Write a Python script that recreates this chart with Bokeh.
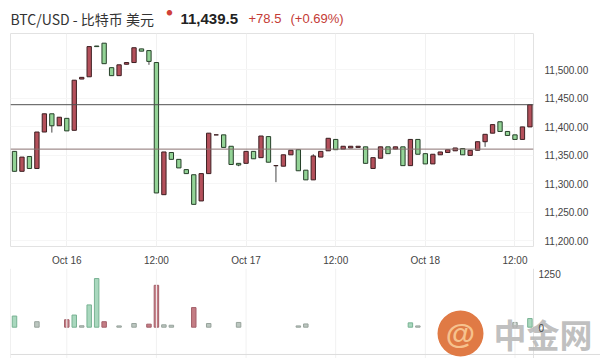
import pandas as pd
from bokeh.plotting import figure
from bokeh.layouts import column, row
from bokeh.models import (ColumnDataSource, Range1d, FixedTicker, NumeralTickFormatter,
                          Span, Label, BoxAnnotation)
from bokeh.embed import file_html
from bokeh.resources import INLINE

# Hourly BTC/USD candles, starting Oct 15 17:00 (2020)
first_hour = "2020-10-15 17:00"

opens = [11357, 11322, 11348, 11327, 11391, 11423, 11402, 11415, 11394, 11484,
         11488, 11542, 11547, 11504, 11490, 11510, 11513, 11537, 11534, 11513,
         11281, 11355, 11343, 11325, 11316, 11270, 11318, 11386, 11386, 11366,
         11336, 11336, 11357, 11346, 11383, 11332, 11331, 11351, 11360, 11324,
         11307, 11347, 11358, 11378, 11361, 11363, 11364, 11365, 11327, 11345,
         11365, 11361, 11365, 11332, 11378, 11353, 11335, 11351, 11355, 11358,
         11362, 11350, 11359, 11374, 11389, 11409, 11392, 11386, 11378, 11400]
closes = [11322, 11347, 11327, 11391, 11423, 11402, 11417, 11393, 11482, 11487,
          11541, 11541, 11511, 11490, 11509, 11513, 11539, 11533, 11515, 11284,
          11356, 11343, 11328, 11318, 11264, 11318, 11389, 11386, 11364, 11334,
          11333, 11357, 11344, 11384, 11338, 11332, 11351, 11359, 11323, 11307,
          11349, 11357, 11380, 11360, 11366, 11366, 11366, 11336, 11346, 11365,
          11353, 11365, 11332, 11378, 11352, 11335, 11352, 11356, 11360, 11363,
          11351, 11359, 11374, 11387, 11404, 11392, 11385, 11378, 11400, 11439]
highs = [11357, 11347, 11348, 11391, 11423, 11423, 11417, 11415, 11482, 11487,
         11541, 11542, 11547, 11504, 11509, 11513, 11539, 11537, 11534, 11513,
         11356, 11355, 11343, 11325, 11316, 11318, 11389, 11386, 11386, 11366,
         11336, 11357, 11357, 11384, 11383, 11332, 11351, 11359, 11360, 11324,
         11352, 11357, 11380, 11378, 11366, 11366, 11366, 11365, 11346, 11365,
         11365, 11365, 11365, 11378, 11378, 11353, 11352, 11356, 11360, 11363,
         11362, 11359, 11374, 11387, 11404, 11409, 11392, 11386, 11400, 11439]
lows = [11322, 11322, 11327, 11327, 11391, 11390, 11402, 11393, 11394, 11484,
        11488, 11541, 11511, 11490, 11490, 11510, 11513, 11533, 11509, 11284,
        11281, 11343, 11328, 11318, 11264, 11270, 11318, 11386, 11364, 11334,
        11331, 11336, 11344, 11346, 11338, 11303, 11331, 11351, 11323, 11307,
        11307, 11347, 11358, 11360, 11361, 11363, 11364, 11336, 11327, 11345,
        11353, 11361, 11332, 11332, 11352, 11335, 11335, 11351, 11355, 11358,
        11351, 11350, 11359, 11365, 11389, 11392, 11385, 11378, 11378, 11400]

# Volume bars (hour offset from first candle, size, tone)
vol_hours = [0, 3, 7, 8, 9, 10, 11, 12, 14, 16, 18, 19, 20, 21, 24, 26, 30,
             38, 39, 53, 54, 58, 67, 69]
vol_values = [258, 127, 173, 281, 33, 516, 1126, 127, 30, 85, 70, 970, 55, 45,
              454, 85, 110, 30, 75, 100, 30, 30, 110, 200]
vol_tones = ["g", "n", "r", "g", "n", "g", "g", "r", "n", "n", "r", "r", "n", "n",
             "r", "n", "n", "n", "n", "g", "n", "n", "n", "g"]

prev_close = 11361.0
last_price = 11439.0
header_title = "BTC/USD - 比特币 美元"
header_price = "11,439.5"
header_change = "+78.5"
header_pct = "(+0.69%)"

price_ticks = [11200, 11250, 11300, 11350, 11400, 11450, 11500]
volume_ticks = [0, 1250]
time_tick_stamps = ["2020-10-16 00:00", "2020-10-16 12:00", "2020-10-17 00:00",
                    "2020-10-17 12:00", "2020-10-18 00:00", "2020-10-18 12:00"]
time_tick_labels = ["Oct 16", "12:00", "Oct 17", "12:00", "Oct 18", "12:00"]

HOUR = 3_600_000
UP_FILL, UP_LINE = "#b4505b", "#3d1f22"
DOWN_FILL, DOWN_LINE = "#93d396", "#27402a"
AXIS_FONT = "Liberation Sans"
CJK_FONT = "Noto Sans CJK SC"
LABEL_COLOR = "#444444"
BORDER = dict(min_border_left=10, min_border_right=67)

def to_ms(ts):
    return int(pd.Timestamp(ts).value // 10**6)

t0 = to_ms(first_hour)
times = [t0 + i * HOUR for i in range(len(opens))]
up = [c >= o for o, c in zip(opens, closes)]

candles = ColumnDataSource(dict(
    x=times,
    top=[max(o, c) for o, c in zip(opens, closes)],
    bottom=[min(o, c) for o, c in zip(opens, closes)],
    high=highs, low=lows,
    fill=[UP_FILL if u else DOWN_FILL for u in up],
    line=[UP_LINE if u else DOWN_LINE for u in up],
))

tone_fill = {"g": "#a9d8be", "r": "#c47c84", "n": "#bcc7c0"}
tone_line = {"g": "#78b293", "r": "#a3606a", "n": "#97a39c"}
volumes = ColumnDataSource(dict(
    x=[t0 + h * HOUR for h in vol_hours],
    v=vol_values,
    fill=[tone_fill[t] for t in vol_tones],
    line=[tone_line[t] for t in vol_tones],
))

# price frame: page x 10..533; the volume strip keeps the same scale out to x 600
x_start = t0 - 0.535 * HOUR
x_end = t0 + 69.48 * HOUR
px_per_ms = 523 / (x_end - x_start)
x_range = Range1d(x_start, x_end)
vol_x_range = Range1d(x_start, x_start + 590 / px_per_ms)
time_ticks = [to_ms(t) for t in time_tick_stamps]

def style_axis(ax):
    ax.axis_line_color = None
    ax.major_tick_line_color = None
    ax.minor_tick_line_color = None
    ax.major_label_text_font = AXIS_FONT
    ax.major_label_text_font_size = "10px"
    ax.major_label_text_color = LABEL_COLOR

# ---- header row (its frame spans page x 10..533, so data x = page x) ---------
head = figure(width=600, height=33, x_range=Range1d(10, 533), y_range=Range1d(33, 0),
              x_axis_location=None, y_axis_location=None, toolbar_location=None,
              output_backend="svg", min_border_top=0, min_border_bottom=0,
              outline_line_color=None, **BORDER)
head.xgrid.visible = False
head.ygrid.visible = False

def head_label(x, y, text, size, color, style="normal", font=CJK_FONT):
    head.add_layout(Label(x=x, y=y, text=text, text_font=font, text_font_size=size,
                          text_color=color, text_font_style=style,
                          text_baseline="middle", text_align="left"))

head_label(10, 18, header_title, "14px", "#333333")
head_label(166, 12, "●", "6px", "#d0413a")
head_label(180, 18, header_price, "15px", "#222222", "bold", AXIS_FONT)
head_label(248, 18, header_change, "13px", "#c43b35", font=AXIS_FONT)
head_label(290, 18, header_pct, "13px", "#c43b35", font=AXIS_FONT)

# ---- price panel ------------------------------------------------------------
main = figure(width=600, height=235, x_range=x_range, y_range=Range1d(11190, 11564),
              y_axis_location="right", toolbar_location=None, output_backend="svg",
              min_border_top=0, min_border_bottom=16, outline_line_color="#e2e2e2",
              **BORDER)

main.xaxis.ticker = FixedTicker(ticks=time_ticks)
main.xaxis.major_label_overrides = dict(zip(time_ticks, time_tick_labels))
main.yaxis.ticker = FixedTicker(ticks=price_ticks)
main.yaxis.formatter = NumeralTickFormatter(format="0,0.00")
style_axis(main.xaxis[0])
style_axis(main.yaxis[0])
main.xaxis.major_label_standoff = 2
main.yaxis.major_label_standoff = 5
main.xgrid.grid_line_color = "#f1f1f1"
main.ygrid.grid_line_color = "#f6f6f6"

main.add_layout(Span(location=prev_close, dimension="width",
                     line_color="#8a7272", line_width=1))
main.add_layout(Span(location=last_price, dimension="width",
                     line_color="#505050", line_width=1))

main.segment(x0="x", x1="x", y0="low", y1="high", source=candles,
             line_color="#444444", line_width=1)
main.vbar(x="x", width=0.58 * HOUR, top="top", bottom="bottom", source=candles,
          fill_color="fill", line_color="line", line_width=1)

main.add_layout(Label(x=x_range.end, y=last_price, x_offset=1,
                      text=f"{last_price:,.2f}", text_font=AXIS_FONT,
                      text_font_size="10px", text_color="white",
                      text_baseline="middle", text_align="left",
                      background_fill_color="#333333", padding=2))

# ---- volume panel (frame runs to the page edge) -----------------------------
vol = figure(width=600, height=90, x_range=vol_x_range, y_range=Range1d(-725, 1359),
             x_axis_location=None, y_axis_location=None, toolbar_location=None,
             output_backend="svg", min_border_left=10, min_border_right=0,
             min_border_top=0, min_border_bottom=0, outline_line_color=None)
vol.xgrid.visible = False
vol.ygrid.visible = False

vol.add_layout(Span(location=x_start, dimension="height", line_color="#e2e2e2", line_width=1))
vol.add_layout(Span(location=x_end, dimension="height", line_color="#e2e2e2", line_width=1))
for t in time_ticks:
    vol.add_layout(Span(location=t, dimension="height", line_color="#f1f1f1", line_width=1))
vol.add_layout(Span(location=-632, dimension="width", line_color="#dddddd", line_width=1))

vol.vbar(x="x", width=0.6 * HOUR, top="v", bottom=0, source=volumes,
         fill_color="fill", line_color="line", line_width=1)

# site mark in the lower right corner (drawn beneath the scale labels)
vol.add_layout(BoxAnnotation(left=427, right=473, bottom=2, top=48,
                             left_units="screen", right_units="screen",
                             bottom_units="screen", top_units="screen",
                             fill_color="#e07a45", fill_alpha=1.0, line_color=None,
                             border_radius=23))
vol.add_layout(Label(x=450, y=25, x_units="screen", y_units="screen", text="@",
                     text_font=AXIS_FONT, text_font_size="30px", text_font_style="bold",
                     text_color="#f6c28e", text_align="center", text_baseline="middle"))
vol.add_layout(Label(x=483, y=25, x_units="screen", y_units="screen", text="中金网",
                     text_font=CJK_FONT, text_font_size="33px", text_font_style="bold",
                     text_color="#b5b5b5", text_alpha=0.85,
                     text_align="left", text_baseline="middle"))

# volume scale labels, in line with the price scale
for v in volume_ticks:
    vol.add_layout(Label(x=x_end, y=v, x_offset=5, y_offset=-1, text=str(v),
                         text_font=AXIS_FONT, text_font_size="10px",
                         text_color=LABEL_COLOR, text_baseline="middle",
                         text_align="left"))

layout = column(head, main, row(vol, spacing=0), spacing=0)
open("out.html", "w").write(file_html(layout, INLINE))
